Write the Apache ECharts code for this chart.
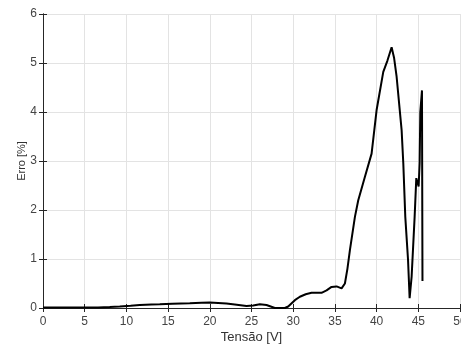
<!DOCTYPE html>
<html>
<head>
<meta charset="utf-8">
<script src="https://cdn.jsdelivr.net/npm/echarts@6/dist/echarts.min.js"></script>
<style>
  html, body { margin: 0; padding: 0; background: #fff; }
  #chart { width: 461px; height: 345px; }
</style>
</head>
<body>
<div id="chart"></div>
<script>
// tensão [V] e erro [%]
var tensao = [0, 2, 4, 6, 6.6, 8, 9.2, 10.5, 11.6, 13, 14, 15.5, 17.6, 19, 20, 21, 22, 23, 24.4, 25.2, 26, 26.8, 27.8, 29, 29.4, 30.2, 30.8, 31.5, 32.2, 33.4, 34, 34.6, 35.2, 35.8, 36.2, 36.5, 36.8, 37.4, 37.8, 38.6, 39.4, 40.0, 40.8, 41.3, 41.8, 42.1, 42.4, 43.0, 43.2, 43.44, 43.77, 43.96, 44.2, 44.56, 44.76, 45.04, 45.16, 45.24, 45.44, 45.5];
var erro = [0.01, 0.01, 0.01, 0.01, 0.01, 0.02, 0.03, 0.045, 0.06, 0.07, 0.075, 0.085, 0.095, 0.105, 0.11, 0.1, 0.09, 0.07, 0.04, 0.05, 0.075, 0.06, 0.0, 0.0, 0.03, 0.16, 0.23, 0.28, 0.31, 0.31, 0.36, 0.43, 0.44, 0.4, 0.5, 0.8, 1.18, 1.86, 2.2, 2.68, 3.15, 4.04, 4.82, 5.05, 5.32, 5.1, 4.72, 3.63, 2.96, 1.86, 0.98, 0.2, 0.64, 1.86, 2.65, 2.48, 2.96, 4.0, 4.44, 0.55];
var xTicks = [0, 5, 10, 15, 20, 25, 30, 35, 40, 45, 50];
var yTicks = [0, 1, 2, 3, 4, 5, 6];

var pontos = tensao.map(function (v, i) { return [v, erro[i]]; });

var chart = echarts.init(document.getElementById('chart'));

var eixoCor = '#262626';
var fonte = 'Liberation Sans, Arial, sans-serif';

var option = {
    backgroundColor: '#fff',
    animation: false,
    grid: { left: 43, right: 1, top: 14, bottom: 37, containLabel: false, outerBoundsMode: 'none' },
    xAxis: [
        {
            type: 'value',
            min: xTicks[0],
            max: xTicks[xTicks.length - 1],
            interval: 5,
            name: 'Tensão [V]',
            nameLocation: 'middle',
            nameGap: 23,
            nameMoveOverlap: false,
            nameTextStyle: { color: '#333', fontSize: 13, fontFamily: fonte },
            axisLine: { lineStyle: { color: eixoCor, width: 1 } },
            axisTick: { inside: true, length: 4, lineStyle: { color: eixoCor } },
            axisLabel: { margin: 8, color: '#444', fontSize: 12, fontFamily: fonte, hideOverlap: false },
            splitLine: { show: true, lineStyle: { color: '#e3e3e3', width: 1 } }
        },
        {
            type: 'value',
            position: 'top',
            min: xTicks[0],
            max: xTicks[xTicks.length - 1],
            interval: 5,
            axisLine: { lineStyle: { color: eixoCor, width: 1 } },
            axisTick: { inside: true, length: 4, lineStyle: { color: eixoCor } },
            axisLabel: { show: false },
            splitLine: { show: false }
        }
    ],
    yAxis: [
        {
            type: 'value',
            min: yTicks[0],
            max: yTicks[yTicks.length - 1],
            interval: 1,
            name: 'Erro [%]',
            nameLocation: 'middle',
            nameGap: 16,
            nameMoveOverlap: false,
            nameTextStyle: { color: '#333', fontSize: 11, fontFamily: fonte },
            axisLine: { show: true, lineStyle: { color: eixoCor, width: 1 } },
            axisTick: { show: true, inside: true, length: 4, lineStyle: { color: eixoCor } },
            axisLabel: { margin: 6, color: '#444', fontSize: 12, fontFamily: fonte },
            splitLine: { show: true, lineStyle: { color: '#e3e3e3', width: 1 } }
        },
        {
            type: 'value',
            position: 'right',
            min: yTicks[0],
            max: yTicks[yTicks.length - 1],
            interval: 1,
            axisLine: { show: true, lineStyle: { color: eixoCor, width: 1 } },
            axisTick: { show: true, inside: true, length: 4, lineStyle: { color: eixoCor } },
            axisLabel: { show: false },
            splitLine: { show: false }
        }
    ],
    series: [
        {
            type: 'line',
            xAxisIndex: 0,
            yAxisIndex: 0,
            data: pontos,
            showSymbol: false,
            symbol: 'none',
            lineStyle: { color: '#000', width: 2 },
            z: 5
        }
    ]
};

chart.setOption(option);
</script>
</body>
</html>
